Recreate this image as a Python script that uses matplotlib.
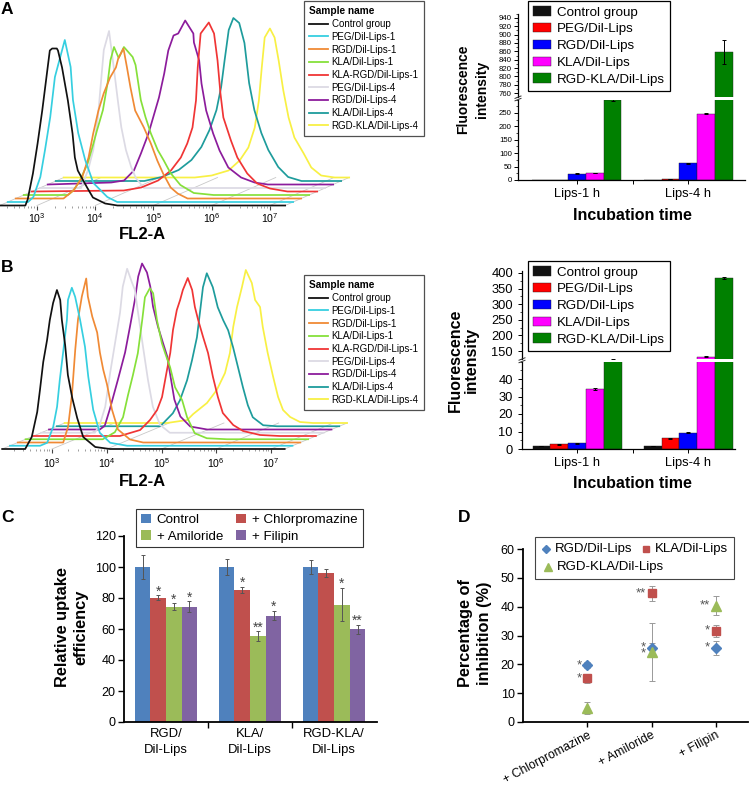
import numpy as np
import matplotlib
matplotlib.use("Agg")
import matplotlib.pyplot as plt
from matplotlib.lines import Line2D
from matplotlib.patches import Patch, Rectangle
from matplotlib.ticker import AutoMinorLocator

plt.rcParams["font.family"] = ["Liberation Sans", "DejaVu Sans"]
plt.rcParams["mathtext.fontset"] = "custom"
plt.rcParams["mathtext.rm"] = "Liberation Sans"
plt.rcParams["axes.linewidth"] = 0.9

# ---------------------------------------------------------------------------
# Data
# ---------------------------------------------------------------------------
SAMPLE_NAMES = ["Control group", "PEG/Dil-Lips-1", "RGD/Dil-Lips-1", "KLA/Dil-Lips-1",
                "KLA-RGD/Dil-Lips-1", "PEG/Dil-Lips-4", "RGD/Dil-Lips-4",
                "KLA/Dil-Lips-4", "RGD-KLA/Dil-Lips-4"]
HIST_COLORS = ["#111111", "#36CFE0", "#F08A35", "#86E03A", "#F03535",
               "#DCDAE4", "#8C1C9C", "#1E9C9C", "#F8F044"]

# flow histograms: (log10 FL2-A, count) outline of each sample, front to back
HIST_A = [
    ([2.80, 2.84, 2.93, 3.01, 3.09, 3.17, 3.22, 3.26, 3.34, 3.36, 3.43, 3.53, 3.61, 3.65, 3.70, 3.86, 3.96, 4.17, 4.38],
     [0, 6, 32, 62, 95, 132, 155, 157, 157, 155, 138, 105, 72, 48, 35, 18, 8, 2, 0]),
    ([2.71, 2.80, 2.92, 3.00, 3.09, 3.17, 3.34, 3.44, 3.48, 3.57, 3.69, 3.83, 4.07, 4.24],
     [0, 5, 25, 52, 85, 125, 162, 135, 102, 69, 42, 19, 5, 0]),
    ([3.18, 3.35, 3.50, 3.61, 3.69, 3.78, 3.87, 3.98, 4.08, 4.12, 4.21, 4.27, 4.33, 4.41, 4.56, 4.68, 4.79, 4.89, 5.02, 5.14, 5.31],
     [0, 8, 21, 41, 65, 88, 105, 121, 131, 140, 150, 131, 111, 88, 71, 55, 38, 25, 11, 5, 0]),
    ([3.12, 3.22, 3.33, 3.46, 3.54, 3.62, 3.72, 3.80, 3.85, 3.91, 3.99, 4.08, 4.23, 4.28, 4.37, 4.45, 4.54, 4.66, 4.76, 4.88, 5.05, 5.28, 5.62],
     [0, 5, 15, 32, 48, 65, 85, 112, 135, 148, 137, 148, 138, 130, 95, 78, 62, 45, 35, 22, 10, 2, 0]),
    ([3.94, 4.24, 4.53, 4.75, 4.92, 5.03, 5.12, 5.18, 5.21, 5.26, 5.40, 5.49, 5.55, 5.60, 5.65, 5.78, 5.89, 6.06, 6.23, 6.45, 6.75],
     [1, 4, 11, 21, 34, 48, 64, 91, 124, 158, 169, 158, 131, 98, 74, 51, 34, 18, 8, 3, 0]),
    ([3.07, 3.19, 3.28, 3.36, 3.41, 3.46, 3.55, 3.63, 3.70, 3.76, 3.84, 3.93, 4.01, 4.15],
     [0, 18, 38, 71, 105, 138, 157, 121, 88, 61, 38, 21, 10, 0]),
    ([3.45, 3.67, 3.84, 3.96, 4.09, 4.17, 4.27, 4.36, 4.43, 4.52, 4.60, 4.72, 4.86, 4.87, 4.96, 5.00, 5.08, 5.20, 5.31, 5.46, 5.68, 5.91, 6.14],
     [2, 4, 14, 31, 51, 67, 87, 111, 134, 149, 151, 164, 151, 142, 124, 101, 74, 51, 34, 17, 7, 2, 0]),
    ([3.88, 4.18, 4.47, 4.69, 4.86, 5.00, 5.12, 5.20, 5.26, 5.33, 5.41, 5.51, 5.60, 5.68, 5.77, 5.89, 6.01, 6.18, 6.35, 6.58],
     [0, 4, 11, 21, 34, 51, 71, 94, 121, 151, 163, 158, 138, 98, 71, 48, 31, 14, 4, 0]),
    ([4.61, 4.90, 5.19, 5.38, 5.53, 5.64, 5.71, 5.76, 5.81, 5.90, 5.98, 6.05, 6.13, 6.22, 6.32, 6.48, 6.61, 6.78, 7.01],
     [0, 2, 7, 17, 30, 50, 77, 110, 140, 149, 140, 117, 87, 60, 40, 24, 10, 2, 0]),
]
HIST_B = [
    ([2.51, 2.63, 2.73, 2.78, 2.84, 2.91, 2.96, 3.02, 3.09, 3.15, 3.18, 3.24, 3.29, 3.37, 3.46, 3.57, 3.79, 4.06],
     [0, 12, 37, 59, 87, 109, 129, 146, 159, 149, 129, 104, 74, 51, 31, 12, 2, 0]),
    ([2.64, 2.77, 2.88, 2.95, 3.00, 3.06, 3.13, 3.15, 3.22, 3.28, 3.37, 3.46, 3.52, 3.61, 3.73, 3.92, 4.23],
     [0, 3, 19, 39, 66, 93, 126, 146, 158, 149, 126, 99, 69, 36, 13, 3, 0]),
    ([2.92, 3.01, 3.08, 3.14, 3.19, 3.26, 3.34, 3.37, 3.45, 3.54, 3.59, 3.65, 3.72, 3.81, 3.92, 4.14, 4.38],
     [0, 16, 48, 93, 123, 146, 164, 146, 126, 110, 90, 73, 58, 33, 13, 3, 0]),
    ([3.50, 3.72, 3.87, 3.96, 4.05, 4.14, 4.22, 4.27, 4.36, 4.42, 4.49, 4.58, 4.64, 4.73, 4.82, 4.95, 5.04, 5.18, 5.40, 5.77],
     [0, 7, 22, 44, 64, 86, 119, 142, 151, 146, 119, 96, 86, 72, 52, 39, 22, 6, 1, 0]),
    ([3.67, 4.04, 4.22, 4.35, 4.44, 4.53, 4.59, 4.64, 4.71, 4.77, 4.82, 4.91, 4.99, 5.04, 5.10, 5.19, 5.28, 5.37, 5.46, 5.55, 5.74, 5.92, 6.23, 6.59],
     [0, 6, 16, 26, 39, 66, 83, 106, 126, 136, 146, 158, 146, 129, 116, 99, 83, 59, 39, 23, 11, 5, 1, 0]),
    ([3.07, 3.16, 3.26, 3.35, 3.44, 3.53, 3.58, 3.66, 3.75, 3.80, 3.86, 3.95, 4.04, 4.13, 4.26, 4.44],
     [0, 8, 26, 60, 90, 120, 146, 164, 150, 143, 120, 86, 53, 26, 8, 0]),
    ([3.02, 3.11, 3.20, 3.35, 3.48, 3.57, 3.66, 3.72, 3.79, 3.88, 3.94, 3.99, 4.08, 4.17, 4.25, 4.31, 4.38, 4.49, 4.67, 4.98],
     [0, 4, 20, 50, 77, 103, 130, 153, 166, 157, 143, 123, 103, 87, 73, 53, 30, 13, 3, 0]),
    ([3.98, 4.21, 4.34, 4.47, 4.56, 4.65, 4.71, 4.76, 4.83, 4.94, 5.03, 5.13, 5.22, 5.31, 5.40, 5.49, 5.58, 5.67, 5.86, 6.11],
     [0, 13, 26, 46, 66, 89, 116, 139, 153, 139, 119, 106, 96, 79, 59, 39, 21, 9, 1, 0]),
    ([3.96, 4.33, 4.44, 4.69, 4.87, 5.02, 5.11, 5.17, 5.24, 5.33, 5.40, 5.51, 5.57, 5.66, 5.71, 5.80, 5.90, 5.99, 6.08, 6.21, 6.39, 6.63],
     [0, 3, 9, 20, 33, 50, 70, 96, 116, 136, 153, 140, 123, 116, 96, 70, 46, 26, 13, 6, 1, 0]),
]

# fluorescence intensity bars
TIMES = ["Lips-1 h", "Lips-4 h"]
FORMULATIONS = ["Control group", "PEG/Dil-Lips", "RGD/Dil-Lips", "KLA/Dil-Lips", "RGD-KLA/Dil-Lips"]
BAR_COLORS = ["#111111", "#FF0000", "#0000FF", "#FF00FF", "#008000"]

fa_ctrl, fa_ctrl_err = [1.0, 1.0], [0, 0]
fa_peg, fa_peg_err = [1.0, 2.0], [0, 0]
fa_rgd, fa_rgd_err = [24, 62], [1.5, 1.5]
fa_kla, fa_kla_err = [26, 248], [1.5, 2.5]
fa_rk, fa_rk_err = [298, 858], [2.5, 28]

fb_ctrl, fb_ctrl_err = [1.8, 1.8], [0.1, 0.1]
fb_peg, fb_peg_err = [2.6, 6.2], [0.1, 0.2]
fb_rgd, fb_rgd_err = [3.3, 9.2], [0.2, 0.3]
fb_kla, fb_kla_err = [34.4, 131.5], [0.5, 1.5]
fb_rk, fb_rk_err = [122, 384], [4, 4]

# panel C: relative uptake with endocytosis inhibitors
LIPOSOMES = ["RGD/\nDil-Lips", "KLA/\nDil-Lips", "RGD-KLA/\nDil-Lips"]
TREATMENTS = ["Control", "+ Chlorpromazine", "+ Amiloride", "+ Filipin"]
TREAT_COLORS = ["#4F81BD", "#C0504D", "#9BBB59", "#8064A2"]
up_control, up_control_err = [100, 100, 100], [7.6, 5.4, 4.3]
up_chlor, up_chlor_err = [80.2, 85.0, 96.2], [1.5, 2.0, 2.4]
up_amil, up_amil_err = [74.5, 55.5, 75.8], [2.0, 3.0, 10.5]
up_filipin, up_filipin_err = [74.3, 68.6, 59.7], [3.5, 3.0, 3.0]
up_stars = [["", "", ""], ["*", "*", ""], ["*", "**", "*"], ["*", "*", "**"]]

# panel D: percentage of inhibition
INHIBITORS = ["+ Chlorpromazine", "+ Amiloride", "+ Filipin"]
D_SERIES = ["RGD/Dil-Lips", "KLA/Dil-Lips", "RGD-KLA/Dil-Lips"]
inh_rgd, inh_rgd_err = [19.7, 25.5, 25.7], [1.0, 2.0, 2.3]
inh_kla, inh_kla_err = [15.1, 44.6, 31.6], [1.7, 2.6, 2.1]
inh_rk, inh_rk_err = [4.9, 24.3, 40.4], [2.2, 10.2, 3.2]
inh_stars = [["*", "*", "*"], ["*", "**", "*"], ["", "*", "**"]]

# ---------------------------------------------------------------------------
W, H = 749, 785
fig = plt.figure(figsize=(W / 100, H / 100), dpi=100)


def px_axes(x0, y0, x1, y1):
    """Axes from pixel box (top-left origin)."""
    return fig.add_axes([x0 / W, 1 - y1 / H, (x1 - x0) / W, (y1 - y0) / H])


def fpos(x, y):
    return x / W, 1 - y / H


# ---------------------------------------------------------------------------
# Flow cytometry overlays (pseudo-3D offset)
# ---------------------------------------------------------------------------
def draw_hist(ax, curves, dec_px, x3_px, dx_px, dy, lo, hi, lab_y, title_y):
    n = len(curves)
    dx = dx_px / dec_px
    depth_x, depth_y = (n - 1) * dx, (n - 1) * dy
    for d in [lo, 3, 4, 5, 6, 7, hi]:
        ax.plot([d, d + depth_x], [0, depth_y], color="#c8c8c8", lw=0.6, zorder=1)
    for i in range(n - 1, -1, -1):
        logs, counts = curves[i]
        x = np.r_[lo, logs, hi] + i * dx
        y = np.r_[0, counts, 0] + i * dy
        ax.plot(x, y, color=HIST_COLORS[i], lw=1.25, zorder=30 - i,
                solid_joinstyle="round")
    majors = np.arange(3, 8)
    minors = [d + np.log10(m) for d in range(2, 8) for m in range(2, 10)
              if lo < d + np.log10(m) < hi]
    ax.vlines(majors, -4, 0, color="#444444", lw=0.8, zorder=2)
    ax.vlines(minors, -2, 0, color="#777777", lw=0.5, zorder=2)
    for d in majors:
        ax.text(d, lab_y, r"$10^{%d}$" % d, ha="center", va="center", fontsize=7.6)
    ax.text(3 + (142 - x3_px) / dec_px, title_y, "FL2-A", ha="center", va="center",
            fontsize=12, fontweight="bold")
    ax.set_axis_off()


ax_ha = px_axes(0, 10, 360, 212)
ax_ha.set_xlim(3 - 37 / 58.25, 3 + 323 / 58.25)
ax_ha.set_ylim(205.5 - 212, 205.5 - 10)
draw_hist(ax_ha, HIST_A, 58.25, 37, 8.0, 3.5, 2.36, 7.26, -13, -29)

ax_hb = px_axes(0, 262, 360, 460)
ax_hb.set_xlim(3 - 52 / 54.75, 3 + 308 / 54.75)
ax_hb.set_ylim(449 - 460, 449 - 262)
draw_hist(ax_hb, HIST_B, 54.75, 52, 7.8, 3.25, 2.09, 7.25, -14, -33)

hist_handles = [Line2D([], [], color=c, lw=1.3) for c in HIST_COLORS]
for top in (1, 275):
    leg = fig.legend(hist_handles, SAMPLE_NAMES, loc="upper left",
                     bbox_to_anchor=fpos(304, top), borderaxespad=0,
                     fontsize=7.0, title="Sample name",
                     title_fontproperties={"weight": "bold", "size": 7.3},
                     alignment="left", handlelength=1.9, handletextpad=0.4,
                     labelspacing=0.28, borderpad=0.55, fancybox=False,
                     edgecolor="#505050", framealpha=1)
    leg.get_frame().set_linewidth(0.9)

# ---------------------------------------------------------------------------
# Fluorescence intensity, broken y axis
# ---------------------------------------------------------------------------
BAR_W = 0.16


def broken_bars(x0, x1, y_top, y_split_hi, y_split_lo, y_bot, lim_hi, lim_lo,
                ticks_hi, ticks_lo, xlim, series, errs, tick_fs):
    ax_hi = px_axes(x0, y_top, x1, y_split_hi)
    ax_lo = px_axes(x0, y_split_lo, x1, y_bot)
    pos = np.arange(len(TIMES))
    for ax in (ax_hi, ax_lo):
        for k, (vals, err) in enumerate(zip(series, errs)):
            ax.bar(pos + (k - 2) * BAR_W, vals, BAR_W, color=BAR_COLORS[k],
                   edgecolor="#202020", linewidth=0.3, yerr=err,
                   error_kw=dict(ecolor="black", elinewidth=0.7, capsize=1.6,
                                 capthick=0.7))
        ax.set_xlim(*xlim)
        for s in ("top", "right"):
            ax.spines[s].set_visible(False)
        ax.yaxis.set_minor_locator(AutoMinorLocator(2))
        ax.tick_params(axis="y", labelsize=tick_fs, length=3, width=0.7,
                       pad=1.5 if tick_fs < 7 else 3.5)
        ax.tick_params(axis="y", which="minor", length=1.6, width=0.5)
    ax_hi.set_ylim(*lim_hi)
    ax_hi.set_yticks(ticks_hi)
    ax_hi.spines["bottom"].set_visible(False)
    ax_hi.set_xticks([])
    ax_lo.set_ylim(*lim_lo)
    ax_lo.set_yticks(ticks_lo)
    ax_lo.set_xticks(pos)
    ax_lo.set_xticklabels(TIMES, fontsize=9.3)
    ax_lo.set_xticks([0.5], minor=True)
    ax_lo.tick_params(axis="x", which="both", length=3, width=0.7, pad=2.5)
    # break marks on the y axis
    for y in (y_split_hi, y_split_lo):
        fig.add_artist(Line2D([(x0 - 3) / W, (x0 + 3) / W],
                              [1 - (y + 1.2) / H, 1 - (y - 1.2) / H],
                              color="#333333", lw=0.7))
    return ax_hi, ax_lo


broken_bars(518, 745, 13.8, 97.2, 99.6, 180, (750, 950), (0, 300),
            np.arange(760, 941, 20), np.arange(0, 251, 50), (-0.53, 1.51),
            [fa_ctrl, fa_peg, fa_rgd, fa_kla, fa_rk],
            [fa_ctrl_err, fa_peg_err, fa_rgd_err, fa_kla_err, fa_rk_err], 5.6)
broken_bars(522, 735, 271.4, 359, 361.5, 449, (124.4, 405), (0, 50),
            np.arange(150, 401, 50), np.arange(0, 41, 10), (-0.495, 1.42),
            [fb_ctrl, fb_peg, fb_rgd, fb_kla, fb_rk],
            [fb_ctrl_err, fb_peg_err, fb_rgd_err, fb_kla_err, fb_rk_err], 9.3)

fig.text(*fpos(473, 89), "Fluorescence\nintensity", rotation=90, ha="center",
         va="center", fontsize=10, fontweight="bold", linespacing=1.45)
fig.text(*fpos(463.5, 360), "Fluorescence\nintensity", rotation=90, ha="center",
         va="center", fontsize=11.5, fontweight="bold", linespacing=1.05)
fig.text(*fpos(632, 216), "Incubation time", ha="center", va="center",
         fontsize=11.5, fontweight="bold")
fig.text(*fpos(632, 483), "Incubation time", ha="center", va="center",
         fontsize=11.5, fontweight="bold")

bar_handles = [Patch(facecolor=c, edgecolor="#202020", linewidth=0.3) for c in BAR_COLORS]
for top in (1, 261):
    leg = fig.legend(bar_handles, FORMULATIONS, loc="upper left",
                     bbox_to_anchor=fpos(528, top), borderaxespad=0,
                     fontsize=9.6, handlelength=1.3, handleheight=0.7,
                     handletextpad=0.45, labelspacing=0.33, borderpad=0.4,
                     fancybox=False, edgecolor="black", framealpha=1)
    leg.get_frame().set_linewidth(0.9)

# ---------------------------------------------------------------------------
# C: relative uptake efficiency
# ---------------------------------------------------------------------------
ax_c = px_axes(124, 536, 377, 722)
cw = 0.186
gpos = np.arange(len(LIPOSOMES))
c_vals = [up_control, up_chlor, up_amil, up_filipin]
c_errs = [up_control_err, up_chlor_err, up_amil_err, up_filipin_err]
for k, (vals, err) in enumerate(zip(c_vals, c_errs)):
    xs = gpos + (k - 1.5) * cw
    ax_c.bar(xs, vals, cw, color=TREAT_COLORS[k], yerr=err, label=TREATMENTS[k],
             error_kw=dict(ecolor="#555555", elinewidth=0.7, capsize=1.5, capthick=0.7))
    for x, v, e, s in zip(xs, vals, err, up_stars[k]):
        if s:
            ax_c.text(x, v + e + 2.6, s, ha="center", va="center", fontsize=10,
                      color="#444444")
ax_c.set_xlim(-0.5, 2.51)
ax_c.set_ylim(0, 120)
ax_c.set_yticks(np.arange(0, 121, 20))
ax_c.set_xticks(gpos)
ax_c.set_xticklabels(LIPOSOMES, fontsize=9.4, linespacing=1.45)
ax_c.set_xticks([0.5, 1.5], minor=True)
ax_c.tick_params(axis="x", which="major", length=0, pad=4.5)
ax_c.tick_params(axis="x", which="minor", length=4, width=1.0)
ax_c.tick_params(axis="y", labelsize=9, length=4, width=1.0, pad=2)
for s in ("top", "right"):
    ax_c.spines[s].set_visible(False)
for s in ("left", "bottom"):
    ax_c.spines[s].set_linewidth(1.3)
h, l = ax_c.get_legend_handles_labels()
leg = ax_c.legend([h[0], h[2], h[1], h[3]], [l[0], l[2], l[1], l[3]], ncol=2,
                  loc="upper left", bbox_to_anchor=fpos(136, 509),
                  bbox_transform=fig.transFigure, borderaxespad=0, fontsize=9.6,
                  handlelength=0.75, handleheight=0.75, handletextpad=0.45,
                  columnspacing=1.0, labelspacing=0.3, borderpad=0.35,
                  fancybox=False, edgecolor="#333333", framealpha=1)
leg.get_frame().set_linewidth(0.8)
fig.text(*fpos(72, 627), "Relative uptake\nefficiency", rotation=90, ha="center",
         va="center", fontsize=11.8, fontweight="bold", linespacing=1.3)

# ---------------------------------------------------------------------------
# D: percentage of inhibition
# ---------------------------------------------------------------------------
ax_d = px_axes(523, 549, 748, 722)
cats = np.arange(1, len(INHIBITORS) + 1)
d_vals = [inh_rgd, inh_kla, inh_rk]
d_errs = [inh_rgd_err, inh_kla_err, inh_rk_err]
d_markers = [("D", 5.5), ("s", 6), ("^", 6.5)]
for k, (vals, err) in enumerate(zip(d_vals, d_errs)):
    mk, ms = d_markers[k]
    ax_d.errorbar(cats, vals, yerr=err, fmt=mk, ms=ms, color=TREAT_COLORS[k],
                  ecolor="#999999", elinewidth=0.7, capsize=2, capthick=0.7)

# significance marks left of each point; marks that would sit on top of
# each other are pushed apart a little so both stay readable
for j, x in enumerate(cats):
    marks = sorted((vals[j], inh_stars[k][j]) for k, vals in enumerate(d_vals)
                   if inh_stars[k][j])
    ys = [m[0] for m in marks]
    for a in range(1, len(ys)):
        gap = ys[a] - ys[a - 1]
        if gap < 2.2:
            ys[a - 1] -= (2.2 - gap) / 2
            ys[a] += (2.2 - gap) / 2
    for y, (_, s) in zip(ys, marks):
        ax_d.text(x - 0.09, y, s, ha="right", va="center", fontsize=9.5,
                  color="#555555")

ax_d.set_xlim(0, 3.5)
ax_d.set_ylim(0, 60)
ax_d.set_yticks(np.arange(0, 61, 10))
ax_d.set_xticks(cats)
ax_d.set_xticklabels(INHIBITORS, rotation=28, ha="right", va="top",
                     rotation_mode="anchor", fontsize=8.8)
ax_d.tick_params(axis="x", length=3.5, width=1.0, pad=1.8)
ax_d.tick_params(axis="y", labelsize=9, length=4, width=1.0, pad=2)
for s in ("top", "right"):
    ax_d.spines[s].set_visible(False)
for s in ("left", "bottom"):
    ax_d.spines[s].set_linewidth(1.3)
fig.text(*fpos(475, 633), "Percentage of\ninhibition (%)", rotation=90, ha="center",
         va="center", fontsize=11.8, fontweight="bold", linespacing=1.3)

# legend of D laid out like the original (entries flow in rows)
fig.add_artist(Rectangle(fpos(535, 579), 199 / W, 42 / H, transform=fig.transFigure,
                         fill=True, facecolor="white", edgecolor="#444444", lw=0.8))
for (mk, ms), c, name, (lx, ly) in zip(d_markers, TREAT_COLORS, D_SERIES,
                                       [(546, 549), (646, 549), (548, 567)]):
    fig.add_artist(Line2D([lx / W], [1 - ly / H], marker=mk, ms=ms * 0.8, color=c,
                          transform=fig.transFigure))
    fig.text(*fpos(lx + 9, ly), name, ha="left", va="center", fontsize=9.5)

# panel letters
for letter, (x, y) in zip("ABCD", [(1, 9), (1, 268), (1, 517), (458, 517)]):
    fig.text(*fpos(x, y), letter, ha="left", va="center", fontsize=12.5,
             fontweight="bold")

fig.savefig("out.png", dpi=100)
